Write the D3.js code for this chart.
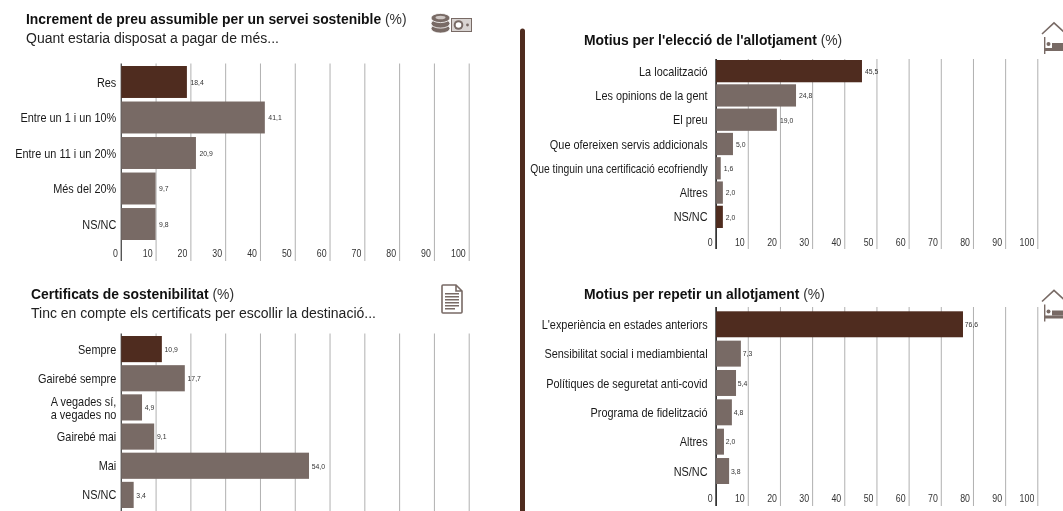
<!DOCTYPE html>
<html><head><meta charset="utf-8">
<script src="https://cdn.jsdelivr.net/npm/d3@7/dist/d3.min.js"></script>
<style>
html,body{margin:0;padding:0;background:#fff;overflow:hidden}
svg{display:block;filter:blur(0.3px)}
text{font-family:"Liberation Sans",Arial,sans-serif}
</style></head><body>
<svg id="c" width="1063" height="511"></svg>
<script>
// Data
const axisTicks = [0,10,20,30,40,50,60,70,80,90,100];

const priceCategories = ["Res","Entre un 1 i un 10%","Entre un 11 i un 20%","Més del 20%","NS/NC"];
const priceLabels = ["18,4","41,1","20,9","9,7","9,8"];
const priceDrawn = [19.0,41.4,21.6,10.0,10.0];
const priceStrong = ["Res"];

const certCategories = ["Sempre","Gairebé sempre","A vegades sí,\na vegades no","Gairebé mai","Mai","NS/NC"];
const certLabels = ["10,9","17,7","4,9","9,1","54,0","3,4"];
const certDrawn = [11.8,18.4,6.1,9.6,54.1,3.7];
const certStrong = ["Sempre"];

const choiceCategories = ["La localització","Les opinions de la gent","El preu","Que ofereixen servis addicionals","Que tinguin una certificació ecofriendly","Altres","NS/NC"];
const choiceLabels = ["45,5","24,8","19,0","5,0","1,6","2,0","2,0"];
const choiceDrawn = [45.5,25.0,19.05,5.4,1.6,2.26,2.26];
const choiceStrong = ["La localització","NS/NC"];

const repeatCategories = ["L'experiència en estades anteriors","Sensibilitat social i mediambiental","Polítiques de seguretat anti-covid","Programa de fidelització","Altres","NS/NC"];
const repeatLabels = ["76,6","7,3","5,4","4,8","2,0","3,8"];
const repeatDrawn = [76.9,7.86,6.35,5.06,2.6,4.2];
const repeatStrong = ["L'experiència en estades anteriors"];

const extraNarrow = ["Que tinguin una certificació ecofriendly"];

const DARK = "#4f2c1f", MID = "#786a65", GRID = "#b0b0b0";
const svg = d3.select("#c");

function panel(o){
  const g = svg.append("g");
  const x = d3.scaleLinear().domain([0,100]).range(o.xr);
  const y = d3.scaleBand().domain(o.cats).range(o.yr).paddingInner(o.pad).paddingOuter(0);

  const axis = g.append("g").attr("transform",`translate(0,${o.axisBottom})`)
    .call(d3.axisBottom(x).tickValues(axisTicks).tickSize(-(o.axisBottom-o.axisTop)).tickFormat(d=>o.showTicks?d:""));
  axis.select(".domain").remove();
  axis.selectAll(".tick line").attr("stroke",d=>d===0?o.axisColor:GRID).attr("stroke-width",d=>d===0?1.4:1);
  if(o.showTicks){
    axis.selectAll(".tick text")
      .attr("text-anchor","end").attr("x",0).attr("y",0).attr("dy","0.35em")
      .attr("transform",`translate(-3.5,${o.tickY-o.axisBottom}) scale(0.84,1)`)
      .attr("font-size",10.5).attr("fill","#333");
  } else axis.selectAll(".tick text").remove();

  g.selectAll("rect.bar").data(o.cats).join("rect").attr("class","bar")
    .attr("x",x(0)+0.5).attr("y",d=>y(d)).attr("height",y.bandwidth())
    .attr("width",(d,i)=>x(o.drawn[i])-x(0)-0.5)
    .attr("fill",d=>o.strong.includes(d)?DARK:MID);

  g.selectAll("text.val").data(o.cats).join("text").attr("class","val")
    .attr("transform",(d,i)=>`translate(${x(o.drawn[i])+o.valGap},${y(d)+y.bandwidth()/2}) scale(0.86,1)`)
    .attr("dy","0.35em").attr("font-size",8).attr("fill","#333").text((d,i)=>o.labels[i]);

  const cat = g.selectAll("text.cat").data(o.cats).join("text").attr("class","cat")
    .attr("text-anchor","end").attr("fill","#1a1a1a")
    .attr("font-size",d=>d.includes("\n")?12:13)
    .attr("transform",d=>{
      const s = d.includes("\n")?0.91:extraNarrow.includes(d)?0.795:0.84;
      const cy = y(d)+y.bandwidth()/2+(d.includes("\n")?1:0);
      return `translate(${x(0)-o.catGap},${cy}) scale(${s},1)`;
    });
  cat.each(function(d){
    const lines = d.split("\n"), t = d3.select(this);
    lines.forEach((l,i)=>t.append("tspan").attr("x",0)
      .attr("y",(i-(lines.length-1)/2)*13.6).attr("dy","0.35em").text(l));
  });

  const t = g.append("text").attr("x",o.titleX).attr("y",o.titleY).attr("font-size",13.9).attr("fill","#111");
  t.append("tspan").attr("font-weight","bold").text(o.title);
  t.append("tspan").attr("fill","#333").text(" (%)");
  if(o.sub) g.append("text").attr("x",o.titleX).attr("y",o.subY).attr("font-size",14).attr("fill","#222").text(o.sub);
}

panel({cats:priceCategories,labels:priceLabels,drawn:priceDrawn,strong:priceStrong,
  xr:[120.8,468.7],yr:[66,240],pad:0.1,axisTop:63.5,axisBottom:261,tickY:253,axisColor:"#555",showTicks:true,valGap:3.5,catGap:4.5,
  title:"Increment de preu assumible per un servei sostenible",sub:"Quant estaria disposat a pagar de més...",
  titleX:26,titleY:24,subY:42.5});
panel({cats:certCategories,labels:certLabels,drawn:certDrawn,strong:certStrong,
  xr:[120.8,468.7],yr:[336,508],pad:0.103,axisTop:333.5,axisBottom:511,tickY:530,axisColor:"#555",showTicks:false,valGap:2.7,catGap:4.5,
  title:"Certificats de sostenibilitat",sub:"Tinc en compte els certificats per escollir la destinació...",
  titleX:31,titleY:299,subY:317.5});
panel({cats:choiceCategories,labels:choiceLabels,drawn:choiceDrawn,strong:choiceStrong,
  xr:[715.6,1037.3],yr:[60,228],pad:0.083,axisTop:59,axisBottom:249,tickY:242,axisColor:"#000",showTicks:true,valGap:3,catGap:8,
  title:"Motius per l'elecció de l'allotjament",titleX:584,titleY:45});
panel({cats:repeatCategories,labels:repeatLabels,drawn:repeatDrawn,strong:repeatStrong,
  xr:[715.6,1037.3],yr:[311.3,484],pad:0.115,axisTop:307,axisBottom:506,tickY:498,axisColor:"#000",showTicks:true,valGap:1.8,catGap:8,
  title:"Motius per repetir un allotjament",titleX:584,titleY:299});

// divider
svg.append("path").attr("fill",DARK).attr("d","M520,511V31a2.5,2.5 0 0 1 5,0V511Z");

// icons
function coins(ix,iy){
  const g = svg.append("g").attr("transform",`translate(${ix},${iy})`).attr("fill",MID);
  [15.5,10.5,5].forEach(cy=>{
    g.append("ellipse").attr("cx",9.5).attr("cy",cy).attr("rx",9.5).attr("ry",4.6)
      .attr("stroke","#fff").attr("stroke-width",0.8);
  });
  g.append("ellipse").attr("cx",9.5).attr("cy",4.5).attr("rx",5).attr("ry",1.8).attr("fill","#cfc8c5");
  g.append("rect").attr("x",20).attr("y",5).attr("width",21).attr("height",14);
  g.append("rect").attr("x",21).attr("y",6).attr("width",19).attr("height",12).attr("fill","#d9d4d2");
  g.append("circle").attr("cx",27.5).attr("cy",12).attr("r",4.8);
  g.append("circle").attr("cx",27.5).attr("cy",12).attr("r",2.8).attr("fill","#fff");
  g.append("circle").attr("cx",36.5).attr("cy",12).attr("r",1.4);
}
function doc(ix,iy){
  const g = svg.append("g").attr("transform",`translate(${ix},${iy})`);
  g.append("path").attr("d","M2,1H15L21,7V28a1,1 0 0 1 -1,1H2a1,1 0 0 1 -1,-1V2a1,1 0 0 1 1,-1ZM15,1V7H21")
    .attr("fill","none").attr("stroke",MID).attr("stroke-width",1.6);
  [9,12,15,18,21].forEach(ly=>g.append("rect").attr("x",4).attr("y",ly).attr("width",14).attr("height",1.5).attr("fill",MID));
  g.append("rect").attr("x",4).attr("y",24).attr("width",10).attr("height",1.5).attr("fill",MID);
}
function house(ix,iy){
  const g = svg.append("g").attr("transform",`translate(${ix},${iy})`);
  g.append("path").attr("d","M0,12L12,0.8L24,12").attr("fill","none").attr("stroke",MID).attr("stroke-width",1.6);
  g.append("rect").attr("x",2).attr("y",15).attr("width",1.4).attr("height",17).attr("fill",MID);
  g.append("circle").attr("cx",6.5).attr("cy",22).attr("r",2).attr("fill",MID);
  g.append("rect").attr("x",10).attr("y",21).attr("width",14).attr("height",5).attr("fill",MID);
  g.append("rect").attr("x",3).attr("y",26).attr("width",21).attr("height",3).attr("fill",MID);
}
coins(431,13);
doc(441,284);
house(1042,22);
house(1042,289.5);
</script>
</body></html>
